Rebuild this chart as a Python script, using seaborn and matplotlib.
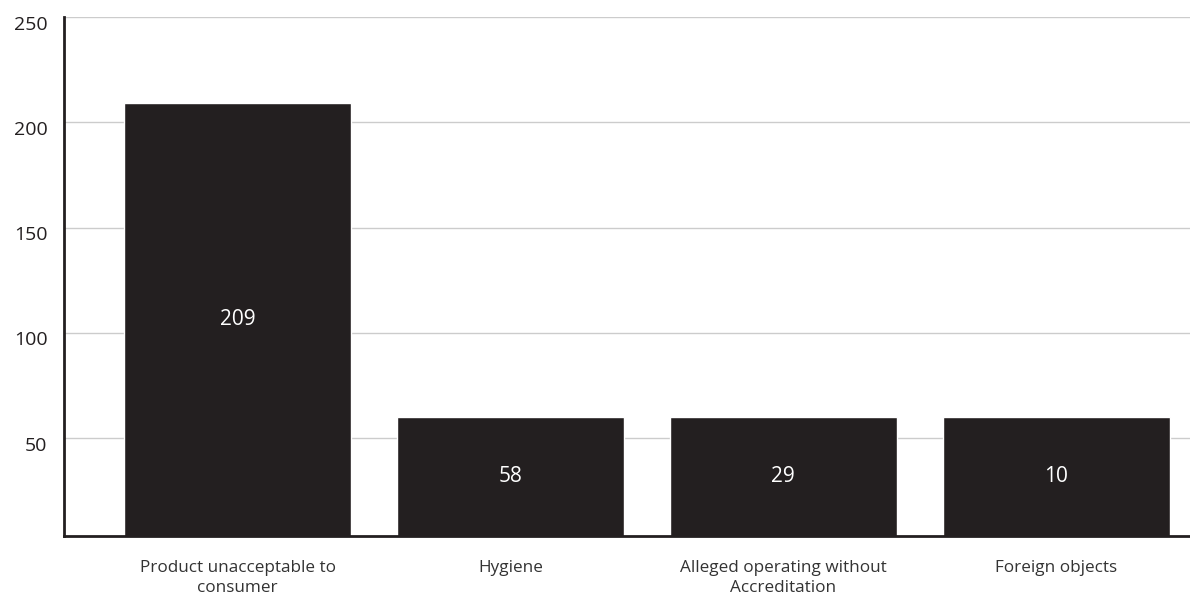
import matplotlib
matplotlib.use("Agg")
import matplotlib.pyplot as plt
import matplotlib.transforms as mtransforms
import seaborn as sns
import pandas as pd

# Data
categories = ["Product unacceptable to\nconsumer", "Hygiene",
              "Alleged operating without\nAccreditation", "Foreign objects"]
value_labels = ["209", "58", "29", "10"]
# heights of the bars as drawn in the reference
bar_heights = [209, 60, 60, 60]
y_ticks = [50, 100, 150, 200, 250]

sns.set_theme(style="white")
plt.rcParams['font.family'] = ['Open Sans', 'DejaVu Sans']

df = pd.DataFrame({"category": categories, "height": bar_heights})

fig = plt.figure(figsize=(11.9, 5.97), dpi=100)
ax = fig.add_axes([64/1190, (597-535.5)/597, 1 - 64/1190, (535.5-17)/597])

dark = "#231f20"
sns.barplot(data=df, x="category", y="height", color=dark, saturation=1,
            width=0.833, ax=ax, zorder=3)

ax.set_xlim(-0.636, 3.49)
ax.set_ylim(3.7, 250)
ax.set_yticks(y_ticks)
ax.set_yticklabels([str(t) for t in y_ticks])
ax.yaxis.grid(True, color="#cccccc", linewidth=1, zorder=0)
ax.xaxis.grid(False)
ax.set_axisbelow(True)

for side in ["top", "right"]:
    ax.spines[side].set_visible(False)
for side in ["left", "bottom"]:
    ax.spines[side].set_color(dark)
    ax.spines[side].set_linewidth(2)
    ax.spines[side].set_zorder(4)

ax.tick_params(axis="y", length=0, pad=12, labelsize=14, labelcolor="#231f20")
ax.tick_params(axis="x", length=0, pad=18, labelsize=12.3, labelcolor="#333333")
for lbl in ax.get_xticklabels():
    lbl.set_linespacing(1.3)
offset = mtransforms.ScaledTranslation(0, -4/72, fig.dpi_scale_trans)
for lbl in ax.get_yticklabels():
    lbl.set_va("center_baseline")
    lbl.set_transform(lbl.get_transform() + offset)
ax.set_xlabel("")
ax.set_ylabel("")

ax.bar_label(ax.containers[0], labels=value_labels, label_type="center",
             color="white", fontsize=15)

fig.savefig("out.png", dpi=100)
